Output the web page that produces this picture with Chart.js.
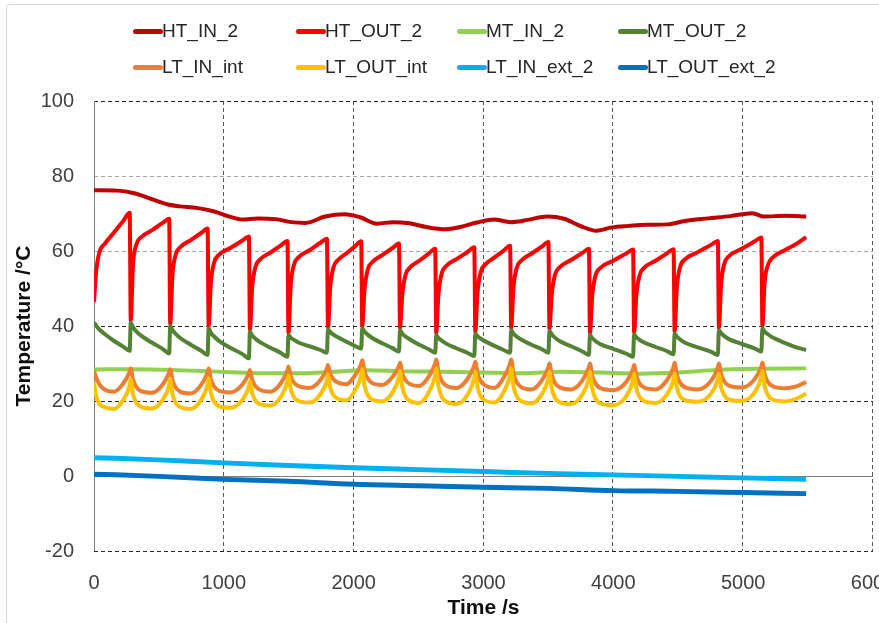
<!DOCTYPE html>
<html>
<head>
<meta charset="utf-8">
<script src="https://cdn.jsdelivr.net/npm/chart.js@4.4.1/dist/chart.umd.min.js"></script>
<style>
  html, body { margin: 0; padding: 0; background: #fff; overflow: hidden; }
  #wrap { position: relative; width: 879px; height: 623px; overflow: hidden; }
  #frame { position: absolute; left: 6px; top: 4px; width: 1000px; height: 1000px;
           border: 1px solid #d9d9d9; border-radius: 3px; }
  #c { position: absolute; left: 0; top: 0; }
  .lg-item { position: absolute; height: 22px; font: 19px 'Liberation Sans', Arial, sans-serif;
             color: #262626; white-space: nowrap; }
  .lg-line { position: absolute; left: 0; top: 9px; width: 30px; height: 5px; border-radius: 3px; }
  .lg-text { position: absolute; left: 29px; top: 0; line-height: 22px; }
</style>
</head>
<body>
<div id="wrap">
  <div id="frame"></div>
  <canvas id="c" width="879" height="623"></canvas>
  <div id="legend"></div>
</div>
<script>
/* ------------------------------------------------------------
   Data (time in s, temperature in °C)
------------------------------------------------------------ */
const xTicks = [0, 1000, 2000, 3000, 4000, 5000, 6000];
const yTicks = [-20, 0, 20, 40, 60, 80, 100];

// time grid shared by the four cycling series (7 points per cycle)
const cycleT = [
  0, 15, 40, 85, 155, 225, 275,
  283, 300, 325, 360, 445, 529, 579,
  587, 604, 629, 664, 745, 825, 875,
  883, 900, 925, 960, 1050, 1143, 1193,
  1201, 1218, 1243, 1278, 1360, 1440, 1490,
  1498, 1515, 1540, 1575, 1660, 1744, 1794,
  1802, 1819, 1844, 1879, 1945, 2008, 2058,
  2066, 2083, 2108, 2143, 2220, 2299, 2349,
  2357, 2374, 2399, 2434, 2505, 2578, 2628,
  2636, 2653, 2678, 2713, 2795, 2879, 2929,
  2937, 2954, 2979, 3014, 3085, 3155, 3205,
  3213, 3230, 3255, 3290, 3370, 3450, 3500,
  3508, 3525, 3550, 3585, 3675, 3762, 3812,
  3820, 3837, 3862, 3897, 4000, 4102, 4152,
  4160, 4177, 4202, 4237, 4325, 4414, 4464,
  4472, 4489, 4514, 4549, 4650, 4755, 4805,
  4813, 4830, 4855, 4890, 4990, 5090, 5140,
  5148, 5165, 5190, 5225, 5320, 5410, 5485
];

const htOutV = [
  46.4, 54.0, 59.5, 62.0, 65.0, 68.0, 70.2,
  41.5, 56.1, 61.6, 63.6, 65.5, 67.5, 68.6,
  40.6, 53.5, 59.0, 61.0, 62.9, 64.8, 66.0,
  40.0, 51.4, 56.9, 58.9, 60.8, 62.8, 63.9,
  39.1, 50.2, 55.7, 57.7, 59.6, 61.5, 62.7,
  38.2, 50.8, 56.3, 58.3, 60.2, 62.2, 63.3,
  39.7, 50.1, 55.6, 57.6, 59.4, 61.2, 62.6,
  40.0, 49.5, 55.0, 57.0, 58.9, 60.8, 62.0,
  39.5, 48.1, 53.6, 55.6, 57.4, 59.3, 60.6,
  38.2, 48.5, 54.0, 56.0, 57.9, 59.8, 61.0,
  38.6, 48.9, 54.4, 56.4, 58.3, 60.1, 61.4,
  39.5, 49.9, 55.4, 57.4, 59.3, 61.2, 62.4,
  39.3, 48.1, 53.6, 55.6, 57.6, 59.5, 60.6,
  38.2, 47.9, 53.4, 55.4, 57.4, 59.4, 60.4,
  38.4, 48.0, 53.5, 55.5, 57.4, 59.4, 60.5,
  38.6, 50.2, 55.7, 57.7, 59.7, 61.7, 62.7,
  39.5, 51.1, 56.6, 58.6, 60.6, 62.6, 63.6,
  40.0, 51.5, 56.2, 58.2, 60.2, 61.9, 63.7
];

const mtOutV = [
  40.9, 40.2, 39.1, 37.8, 36.0, 34.5, 33.4,
  40.9, 39.7, 38.6, 37.5, 35.6, 33.9, 32.7,
  40.0, 38.9, 37.9, 36.8, 35.0, 33.4, 32.3,
  39.4, 38.2, 37.2, 36.1, 34.2, 32.5, 31.4,
  38.5, 37.5, 36.6, 35.7, 34.2, 32.8, 31.8,
  37.6, 36.9, 36.3, 35.6, 34.6, 33.6, 32.9,
  39.1, 38.4, 37.7, 37.0, 35.8, 34.7, 34.0,
  39.4, 38.5, 37.7, 36.8, 35.4, 34.1, 33.2,
  38.9, 38.0, 37.2, 36.4, 35.0, 33.8, 32.9,
  37.6, 36.8, 36.1, 35.3, 34.0, 32.8, 32.0,
  38.0, 37.3, 36.6, 35.9, 34.7, 33.6, 32.9,
  38.9, 38.0, 37.2, 36.4, 35.0, 33.8, 32.9,
  38.7, 37.8, 36.9, 36.0, 34.6, 33.2, 32.3,
  37.6, 36.8, 36.0, 35.2, 33.9, 32.6, 31.8,
  37.8, 37.0, 36.3, 35.6, 34.4, 33.3, 32.5,
  38.0, 37.2, 36.4, 35.6, 34.3, 33.1, 32.3,
  38.9, 38.1, 37.3, 36.5, 35.2, 34.0, 33.2,
  39.4, 38.5, 37.8, 37.0, 35.5, 34.3, 33.6
];

const ltInIntV = [
  28.1, 26.4, 24.5, 23.0, 22.5, 24.7, 27.8,
  28.7, 25.8, 23.8, 22.7, 22.2, 24.4, 27.6,
  28.5, 25.6, 23.6, 22.5, 22.0, 24.3, 27.7,
  28.7, 25.8, 23.9, 22.8, 22.3, 24.4, 27.4,
  28.3, 25.7, 24.0, 23.0, 22.5, 24.8, 28.2,
  29.2, 26.6, 24.9, 24.0, 23.5, 25.6, 28.7,
  29.6, 27.3, 25.8, 24.9, 24.5, 26.7, 29.9,
  30.9, 27.9, 26.0, 24.8, 24.3, 26.4, 29.3,
  30.2, 27.4, 25.6, 24.5, 24.0, 26.5, 30.0,
  31.1, 27.7, 25.4, 24.1, 23.5, 26.0, 29.5,
  30.5, 27.4, 25.3, 24.1, 23.5, 26.2, 30.0,
  31.1, 27.5, 25.1, 23.7, 23.1, 25.5, 29.0,
  30.0, 26.9, 24.8, 23.7, 23.1, 25.5, 29.0,
  30.0, 26.8, 24.7, 23.5, 22.9, 25.2, 28.6,
  29.6, 26.7, 24.7, 23.6, 23.1, 25.6, 29.1,
  30.2, 27.0, 24.9, 23.7, 23.1, 25.5, 29.0,
  30.0, 27.1, 25.2, 24.1, 23.6, 25.9, 29.2,
  30.2, 27.1, 25.1, 24.0, 23.4, 23.9, 25.1
];

const ltOutIntV = [
  25.0, 21.5, 19.3, 18.3, 17.9, 20.3, 24.2,
  25.8, 21.9, 19.6, 18.5, 18.0, 20.3, 24.2,
  25.8, 21.9, 19.5, 18.4, 17.9, 20.3, 24.4,
  26.0, 22.1, 19.8, 18.7, 18.2, 20.3, 23.9,
  25.3, 22.1, 20.1, 19.2, 18.8, 21.2, 25.2,
  26.8, 23.2, 21.0, 20.0, 19.6, 21.8, 25.5,
  27.0, 23.6, 21.6, 20.6, 20.2, 22.7, 26.8,
  28.5, 24.2, 21.6, 20.4, 19.9, 22.3, 26.4,
  28.0, 23.8, 21.2, 20.0, 19.5, 22.3, 26.9,
  28.7, 24.0, 21.1, 19.8, 19.2, 21.8, 26.1,
  27.8, 23.7, 21.2, 20.1, 19.6, 22.4, 27.0,
  28.8, 24.1, 21.3, 20.0, 19.4, 21.9, 26.1,
  27.8, 23.5, 20.9, 19.7, 19.2, 21.8, 26.1,
  27.8, 23.4, 20.7, 19.4, 18.9, 21.4, 25.6,
  27.3, 23.4, 21.1, 20.0, 19.5, 21.8, 25.7,
  27.3, 23.6, 21.3, 20.3, 19.8, 22.1, 25.8,
  27.3, 23.7, 21.5, 20.4, 20.0, 22.4, 26.4,
  28.0, 24.0, 21.6, 20.4, 19.9, 20.6, 22.0
];

const htInT = [0, 180, 310, 440, 570, 660, 790, 920, 1050, 1140, 1260, 1400, 1520, 1630,
  1780, 1930, 2050, 2180, 2300, 2430, 2560, 2710, 2820, 2950, 3080, 3210, 3340, 3490,
  3620, 3750, 3870, 3990, 4120, 4250, 4420, 4550, 4730, 4900, 5070, 5160, 5330, 5485];
const htInV = [76.2, 76.1, 75.4, 73.9, 72.4, 71.9, 71.5, 70.6, 69.1, 68.4, 68.7, 68.5, 67.7, 67.5,
  69.2, 69.8, 69.0, 67.3, 67.7, 67.4, 66.4, 65.8, 66.4, 67.6, 68.4, 67.7, 68.3, 69.2,
  68.6, 66.6, 65.4, 66.3, 66.7, 67.0, 67.1, 68.0, 68.7, 69.3, 70.1, 69.2, 69.4, 69.2];

const mtInT = [0, 300, 600, 900, 1200, 1500, 1800, 2100, 2400, 2700, 3000, 3300, 3600,
  3900, 4200, 4500, 4800, 5100, 5485];
const mtInV = [28.4, 28.5, 28.3, 27.9, 27.5, 27.4, 27.7, 28.2, 27.9, 27.8, 27.6, 27.4, 27.8,
  27.6, 27.3, 27.6, 28.3, 28.6, 28.7];

const extT = [0, 500, 1000, 1500, 2000, 2500, 3000, 3500, 4000, 4500, 5000, 5485];
const ltInExtV = [4.9, 4.3, 3.5, 2.8, 2.2, 1.7, 1.2, 0.7, 0.3, -0.1, -0.5, -0.9];
const ltOutExtV = [0.5, -0.1, -0.9, -1.4, -2.2, -2.6, -3.0, -3.3, -3.9, -4.1, -4.4, -4.7];

const seriesNames = ["HT_IN_2", "HT_OUT_2", "MT_IN_2", "MT_OUT_2",
                     "LT_IN_int", "LT_OUT_int", "LT_IN_ext_2", "LT_OUT_ext_2"];
const seriesColors = ["#C00000", "#FF0000", "#92D050", "#548235",
                      "#ED7D31", "#FFC000", "#00B0F0", "#0070C0"];
const seriesTimes = [htInT, cycleT, mtInT, cycleT, cycleT, cycleT, extT, extT];
const seriesValues = [htInV, htOutV, mtInV, mtOutV, ltInIntV, ltOutIntV, ltInExtV, ltOutExtV];

/* ------------------------------------------------------------
   Helpers
------------------------------------------------------------ */
function toPoints(times, values) {
    return times.map((t, i) => ({ x: t, y: values[i] }));
}

// Excel style grid: dashed lines, solid line at 0
const excelGrid = {
    id: "excelGrid",
    beforeDatasetsDraw(chart) {
        const { ctx, chartArea: a, scales: { x, y } } = chart;
        ctx.save();
        ctx.lineWidth = 1;
        ctx.setLineDash([4, 3]);

        xTicks.slice(1).forEach(v => {
            const px = Math.round(x.getPixelForValue(v)) - 0.5;
            ctx.strokeStyle = "#595959";
            ctx.beginPath();
            ctx.moveTo(px, a.top);
            ctx.lineTo(px, a.bottom);
            ctx.stroke();
        });

        yTicks.forEach(v => {
            if (v === 0) return;
            const py = Math.round(y.getPixelForValue(v)) + 0.5;
            ctx.strokeStyle = (v === 60 || v === 80) ? "#a6a6a6" : "#262626";
            ctx.beginPath();
            ctx.moveTo(a.left, py);
            ctx.lineTo(a.right, py);
            ctx.stroke();
        });

        ctx.setLineDash([]);
        // axis lines
        ctx.strokeStyle = "#7f7f7f";
        const y0 = Math.round(y.getPixelForValue(0)) + 0.5;
        ctx.beginPath();
        ctx.moveTo(a.left, y0);
        ctx.lineTo(a.right, y0);
        ctx.stroke();
        const x0 = Math.round(x.getPixelForValue(0)) + 0.5;
        ctx.beginPath();
        ctx.moveTo(x0, a.top);
        ctx.lineTo(x0, a.bottom);
        ctx.stroke();
        ctx.restore();
    }
};

/* ------------------------------------------------------------
   Chart
------------------------------------------------------------ */
Chart.defaults.font.family = "'Liberation Sans', Arial, sans-serif";
Chart.defaults.color = "#404040";

const datasets = seriesNames.map((name, i) => ({
    label: name,
    data: toPoints(seriesTimes[i], seriesValues[i]),
    borderColor: seriesColors[i],
    backgroundColor: seriesColors[i],
    borderWidth: i >= 6 ? 5 : 4,
    pointRadius: 0,
    fill: false,
    cubicInterpolationMode: "monotone",
    order: 7 - i
}));

const chart = new Chart(document.getElementById("c"), {
    type: "line",
    data: { datasets: datasets },
    options: {
        responsive: false,
        animation: false,
        devicePixelRatio: 1,
        layout: { padding: { top: 101, right: 6, bottom: 0, left: 0 } },
        plugins: { legend: { display: false }, tooltip: { enabled: false } },
        scales: {
            x: {
                type: "linear",
                min: 0,
                max: 6000,
                grid: { display: false, drawTicks: false },
                border: { display: false },
                ticks: { font: { size: 20 }, padding: 20, maxRotation: 0, callback: v => String(v) },
                afterBuildTicks: s => { s.ticks = xTicks.map(v => ({ value: v })); },
                afterFit: s => { s.height = 72; s.paddingLeft = 0; s.paddingRight = 0; },
                title: {
                    display: true, text: "Time /s", color: "#0d0d0d",
                    font: { size: 21, weight: "bold" }, padding: { top: 0, bottom: 2 }
                }
            },
            y: {
                min: -20,
                max: 100,
                grid: { display: false, drawTicks: false },
                border: { display: false },
                ticks: { font: { size: 20 }, padding: 20, callback: v => String(v) },
                afterBuildTicks: s => { s.ticks = yTicks.map(v => ({ value: v })); },
                afterFit: s => { s.width = 94; s.paddingTop = 0; s.paddingBottom = 0; },
                title: {
                    display: true, text: "Temperature /°C", color: "#0d0d0d",
                    font: { size: 21, weight: "bold" }, padding: { top: 12, bottom: 0 }
                }
            }
        }
    },
    plugins: [excelGrid]
});

/* ------------------------------------------------------------
   Legend (two rows, four columns, as in the picture)
------------------------------------------------------------ */
const legendCols = [133, 296, 457, 618];
const legendRows = [20, 56];
const legendBox = document.getElementById("legend");
chart.data.datasets.forEach((ds, i) => {
    const item = document.createElement("div");
    item.className = "lg-item";
    item.style.left = legendCols[i % 4] + "px";
    item.style.top = legendRows[Math.floor(i / 4)] + "px";
    item.innerHTML = '<span class="lg-line" style="background:' + ds.borderColor + '"></span>' +
                     '<span class="lg-text">' + ds.label + '</span>';
    legendBox.appendChild(item);
});
</script>
</body>
</html>
